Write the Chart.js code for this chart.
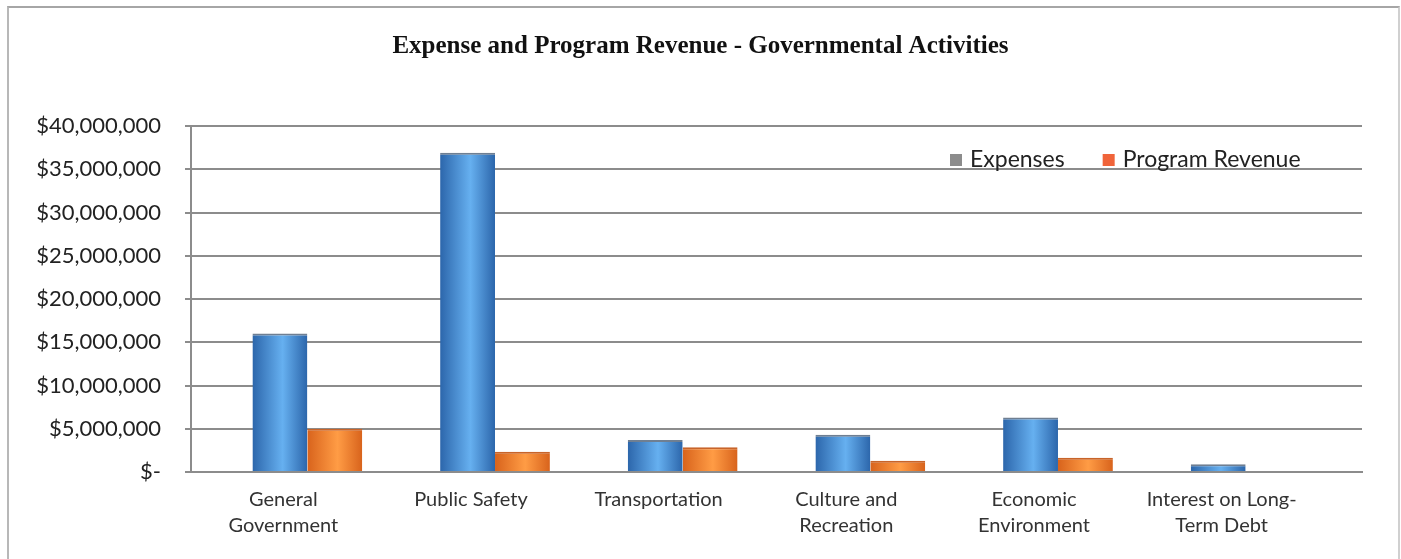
<!DOCTYPE html>
<html>
<head>
<meta charset="utf-8">
<script src="https://cdn.jsdelivr.net/npm/chart.js@4/dist/chart.umd.min.js"></script>
<style>
  body { margin: 0; background: #fff; }
  #wrap { position: relative; width: 1401px; height: 559px; }
  #frame { position: absolute; left: 7px; top: 6px; width: 1389px; height: 560px;
           border-top: 2px solid #a6a6a6; border-left: 2px solid #b8b8b8; border-right: 2px solid #d0d0d0; }
</style>
</head>
<body>
<div id="wrap">
  <div id="frame"></div>
  <canvas id="govChart"></canvas>
</div>
<script>
var categories = [["General", "Government"], "Public Safety", "Transportation",
  ["Culture and", "Recreation"], ["Economic", "Environment"], ["Interest on Long-", "Term Debt"]];
var expenses = [16000000, 36900000, 3700000, 4300000, 6300000, 900000];
var programRevenue = [5000000, 2350000, 2850000, 1300000, 1650000, 0];
var yTickValues = [0, 5000000, 10000000, 15000000, 20000000, 25000000, 30000000, 35000000, 40000000];
var yTickLabels = ["$-", "$5,000,000", "$10,000,000", "$15,000,000", "$20,000,000",
  "$25,000,000", "$30,000,000", "$35,000,000", "$40,000,000"];

function toPoints(values) {
  return values.map(function (v, i) { return { x: i, y: v }; });
}

// shaded columns: dark edges, lighter middle
var shading = {
  id: "shading",
  beforeDatasetsDraw: function (chart) {
    var ctx = chart.ctx;
    chart.data.datasets.forEach(function (ds, di) {
      chart.getDatasetMeta(di).data.forEach(function (bar) {
        var l = bar.x - bar.width / 2, r = bar.x + bar.width / 2;
        var g = ctx.createLinearGradient(l, 0, r, 0);
        g.addColorStop(0, ds.shade[0]);
        g.addColorStop(0.55, ds.shade[1]);
        g.addColorStop(1, ds.shade[0]);
        bar.options.backgroundColor = g;
      });
    });
  }
};

var insideLegend = {
  id: "insideLegend",
  afterDraw: function (chart, args, opts) {
    var ctx = chart.ctx;
    var x = chart.chartArea.right - opts.offsetRight;
    var y = chart.chartArea.top + opts.offsetTop;
    ctx.save();
    ctx.font = opts.font;
    ctx.textBaseline = "middle";
    chart.data.datasets.forEach(function (ds) {
      ctx.fillStyle = ds.legendColor;
      ctx.fillRect(x, y - 6, 12, 12);
      ctx.fillStyle = "#222";
      ctx.fillText(ds.label, x + 20, y);
      x += 20 + ctx.measureText(ds.label).width + 38;
    });
    ctx.restore();
  }
};

var ctx = document.getElementById("govChart").getContext("2d");
var govChart = new Chart(ctx, {
  type: "bar",
  data: {
    datasets: [
      {
        label: "Expenses",
        data: toPoints(expenses),
        backgroundColor: function () { return "#4a8fd6"; },
        shade: ["#2c66ab", "#66b0f0"],
        legendColor: "#8c8c8c",
        borderColor: "#6f7f92",
        borderWidth: { top: 2, left: 0, right: 0, bottom: 0 },
        borderSkipped: "bottom",
        categoryPercentage: 0.585,
        barPercentage: 1
      },
      {
        label: "Program Revenue",
        data: toPoints(programRevenue),
        backgroundColor: function () { return "#f0842e"; },
        shade: ["#d8631c", "#ff9c45"],
        legendColor: "#f0643a",
        borderColor: "#c8642a",
        borderWidth: { top: 2, left: 0, right: 0, bottom: 0 },
        borderSkipped: "bottom",
        categoryPercentage: 0.585,
        barPercentage: 1
      }
    ]
  },
  options: {
    responsive: true,
    maintainAspectRatio: false,
    animation: false,
    layout: { padding: 0 },
    plugins: {
      legend: { display: false },
      tooltip: { enabled: false },
      title: {
        display: true,
        text: "Expense and Program Revenue - Governmental Activities",
        font: { family: "Liberation Serif", size: 25, weight: "bold" },
        color: "#111",
        padding: { top: 32, bottom: 64 }
      },
      insideLegend: { font: "23px Lato", offsetRight: 412, offsetTop: 34 }
    },
    scales: {
      x: {
        type: "linear",
        offset: false,
        min: -0.62,
        max: 5.62,
        grid: { display: false },
        border: { display: true, color: "#8c8c8c", width: 2 },
        ticks: {
          stepSize: 1,
          includeBounds: false,
          autoSkip: false,
          maxRotation: 0,
          padding: 7,
          labelOffset: -24,
          color: "#333",
          font: { family: "Lato", size: 20, lineHeight: 1.3 },
          callback: function (v) { return Number.isInteger(v) ? categories[v] : ""; }
        },
        afterFit: function (s) { s.height = 87; }
      },
      y: {
        min: 0,
        max: 40000000,
        grid: { color: "#8c8c8c", lineWidth: 2, tickLength: 6 },
        border: { display: true, color: "#8c8c8c", width: 2 },
        afterBuildTicks: function (s) {
          s.ticks = yTickValues.map(function (v) { return { value: v }; });
        },
        ticks: {
          padding: 24,
          color: "#222",
          font: { family: "Lato", size: 22 },
          callback: function (v) { return yTickLabels[yTickValues.indexOf(v)]; }
        },
        afterFit: function (s) { s.width = 191; }
      },
      // empty right-hand spacer so the plot ends where the original's does
      spacer: {
        position: "right",
        grid: { display: false },
        border: { display: false },
        ticks: { display: false },
        afterFit: function (s) { s.width = 39; }
      }
    }
  },
  plugins: [shading, insideLegend]
});
</script>
</body>
</html>
